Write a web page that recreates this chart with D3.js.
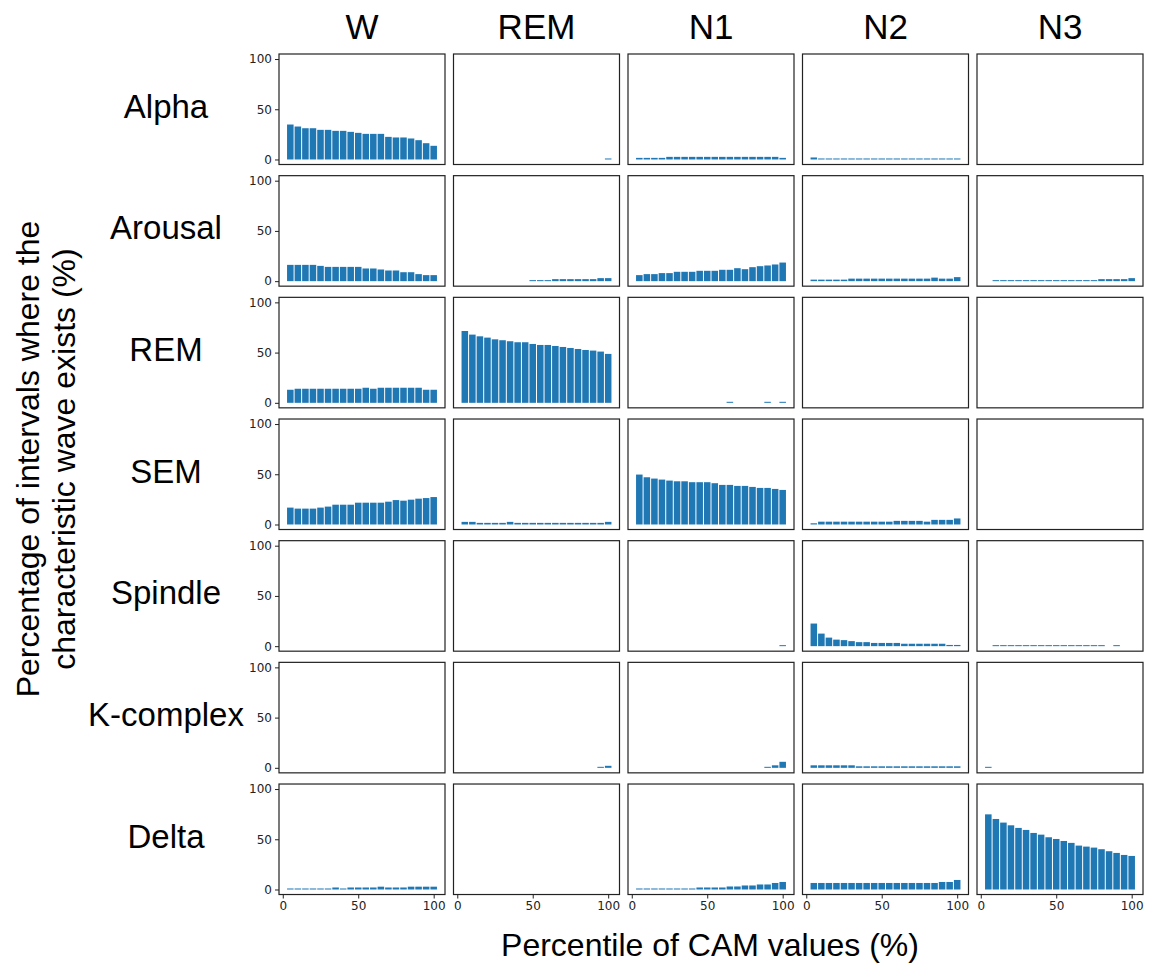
<!DOCTYPE html>
<html>
<head>
<meta charset="utf-8">
<script src="https://cdn.jsdelivr.net/npm/d3@7"></script>
<style>
  html, body { margin: 0; padding: 0; background: #fff; }
  svg { display: block; }
</style>
</head>
<body>
<svg id="chart" width="1158" height="969"></svg>
<script>
// ---------------- DATA ----------------
const stages = ["W", "REM", "N1", "N2", "N3"];
const waves = ["Alpha", "Arousal", "REM", "SEM", "Spindle", "K-complex", "Delta"];
const percentiles = [5, 10, 15, 20, 25, 30, 35, 40, 45, 50, 55, 60, 65, 70, 75, 80, 85, 90, 95, 100];
const xTicks = [0, 50, 100];
const yTicks = [0, 50, 100];

// Stage W
const W_Alpha    = [34.8, 32.8, 31.1, 31.1, 29.5, 29.5, 28.5, 28.5, 27.5, 26.5, 25.5, 25.5, 25.5, 22.5, 21.9, 21.9, 20.9, 19.2, 16.2, 13.6];
const W_Arousal  = [16.2, 16.2, 16.2, 16.2, 15.2, 14.2, 14.2, 14.2, 14.2, 14.2, 12.6, 12.6, 11.6, 10.6, 10.6, 8.9, 8.9, 7.0, 6.0, 6.0];
const W_REM      = [13, 14, 14, 14, 14, 14, 14, 14, 14, 14, 15, 14, 15, 15, 15, 15, 15, 15, 13, 13];
const W_SEM      = [16.8, 15.8, 15.8, 15.8, 16.8, 17.8, 19.7, 19.7, 19.7, 21.7, 21.7, 21.7, 21.7, 22.7, 24.3, 23.7, 24.7, 25.7, 26.3, 27.3];
const W_Spindle  = [0, 0, 0, 0, 0, 0, 0, 0, 0, 0, 0, 0, 0, 0, 0, 0, 0, 0, 0, 0];
const W_Kcomplex = [0, 0, 0, 0, 0, 0, 0, 0, 0, 0, 0, 0, 0, 0, 0, 0, 0, 0, 0, 0];
const W_Delta    = [1.0, 1.0, 1.0, 1.0, 1.0, 1.0, 2.0, 1.0, 2.0, 2.0, 2.0, 2.0, 2.8, 2.0, 2.0, 2.0, 2.8, 2.8, 2.8, 2.8];

// Stage REM
const REM_Alpha    = [0, 0, 0, 0, 0, 0, 0, 0, 0, 0, 0, 0, 0, 0, 0, 0, 0, 0, 0, 1.0];
const REM_Arousal  = [0, 0, 0, 0, 0, 0, 0, 0, 0, 1.0, 1.0, 1.0, 2.0, 2.0, 2.0, 2.0, 2.0, 2.0, 3.0, 3.0];
const REM_REM      = [71.5, 67.9, 66.2, 64.9, 63.2, 62.3, 61.3, 60.3, 60.3, 58.6, 57.6, 57.6, 56.6, 55.6, 54.6, 53.6, 52.6, 52.0, 51.0, 48.7];
const REM_SEM      = [2.6, 2.6, 1.6, 1.6, 1.6, 1.6, 2.6, 1.6, 1.6, 1.6, 1.6, 1.6, 1.6, 1.6, 1.6, 1.6, 1.6, 1.6, 1.6, 2.6];
const REM_Spindle  = [0, 0, 0, 0, 0, 0, 0, 0, 0, 0, 0, 0, 0, 0, 0, 0, 0, 0, 0, 0];
const REM_Kcomplex = [0, 0, 0, 0, 0, 0, 0, 0, 0, 0, 0, 0, 0, 0, 0, 0, 0, 0, 1.0, 2.0];
const REM_Delta    = [0, 0, 0, 0, 0, 0, 0, 0, 0, 0, 0, 0, 0, 0, 0, 0, 0, 0, 0, 0];

// Stage N1
const N1_Alpha    = [1.6, 1.6, 1.6, 1.6, 2.6, 2.6, 2.6, 2.6, 2.6, 2.6, 2.6, 2.6, 2.6, 2.6, 2.6, 2.6, 2.6, 2.6, 2.6, 1.6];
const N1_Arousal  = [6.0, 7.0, 7.0, 8.0, 8.0, 9.3, 9.3, 9.3, 10.3, 10.3, 10.3, 11.3, 11.3, 12.9, 11.9, 13.9, 14.9, 15.6, 16.6, 18.5];
const N1_REM      = [0, 0, 0, 0, 0, 0, 0, 0, 0, 0, 0, 0, 1.0, 0, 0, 0, 0, 1.0, 0, 1.0];
const N1_SEM      = [49.7, 47.0, 45.7, 44.7, 43.7, 43.0, 43.0, 42.1, 42.1, 42.1, 41.1, 39.4, 39.4, 38.4, 38.4, 37.4, 36.4, 36.4, 35.4, 34.4];
const N1_Spindle  = [0, 0, 0, 0, 0, 0, 0, 0, 0, 0, 0, 0, 0, 0, 0, 0, 0, 0, 0, 1.0];
const N1_Kcomplex = [0, 0, 0, 0, 0, 0, 0, 0, 0, 0, 0, 0, 0, 0, 0, 0, 0, 1.0, 2.5, 6.0];
const N1_Delta    = [1.0, 1.0, 1.0, 1.0, 1.0, 1.0, 1.0, 1.0, 2.0, 2.0, 2.0, 2.0, 3.0, 3.0, 4.0, 4.0, 5.0, 5.0, 6.5, 7.5];

// Stage N2
const N2_Alpha    = [2.0, 1.0, 1.0, 1.0, 1.0, 1.0, 1.0, 1.0, 1.0, 1.0, 1.0, 1.0, 1.0, 1.0, 1.0, 1.0, 1.0, 1.0, 1.0, 1.0];
const N2_Arousal  = [1.5, 1.5, 1.5, 1.5, 1.5, 2.5, 2.5, 2.5, 2.5, 2.5, 2.5, 2.5, 2.5, 2.5, 2.5, 2.5, 3.5, 2.5, 2.5, 4.0];
const N2_REM      = [0, 0, 0, 0, 0, 0, 0, 0, 0, 0, 0, 0, 0, 0, 0, 0, 0, 0, 0, 0];
const N2_SEM      = [1.2, 2.8, 2.8, 2.8, 2.8, 2.8, 2.8, 2.8, 2.8, 2.8, 2.8, 3.6, 3.6, 3.6, 3.6, 2.8, 4.6, 4.6, 4.6, 6.0];
const N2_Spindle  = [22.5, 12.5, 8.5, 6.5, 6.0, 5.0, 4.0, 4.0, 3.2, 3.2, 3.2, 3.2, 2.4, 2.4, 2.4, 2.4, 2.4, 2.4, 1.2, 1.2];
const N2_Kcomplex = [2.5, 2.5, 2.5, 2.5, 2.5, 2.5, 1.5, 1.5, 1.5, 1.5, 1.5, 1.5, 1.5, 1.5, 1.5, 1.5, 1.5, 1.5, 1.5, 1.5];
const N2_Delta    = [6.5, 6.5, 6.5, 6.5, 6.5, 6.5, 6.5, 6.5, 6.5, 6.5, 6.5, 6.5, 6.5, 6.5, 6.5, 6.5, 6.5, 7.5, 7.5, 9.5];

// Stage N3
const N3_Alpha    = [0, 0, 0, 0, 0, 0, 0, 0, 0, 0, 0, 0, 0, 0, 0, 0, 0, 0, 0, 0];
const N3_Arousal  = [0, 1.0, 1.0, 1.0, 1.0, 1.0, 1.0, 1.0, 1.0, 1.0, 1.0, 1.0, 1.0, 1.0, 1.0, 2.0, 2.0, 2.0, 2.0, 3.0];
const N3_REM      = [0, 0, 0, 0, 0, 0, 0, 0, 0, 0, 0, 0, 0, 0, 0, 0, 0, 0, 0, 0];
const N3_SEM      = [0, 0, 0, 0, 0, 0, 0, 0, 0, 0, 0, 0, 0, 0, 0, 0, 0, 0, 0, 0];
const N3_Spindle  = [0, 1.0, 1.0, 1.0, 1.0, 1.0, 1.0, 1.0, 1.0, 1.0, 1.0, 1.0, 1.0, 1.0, 1.0, 1.0, 0, 1.0, 0, 0];
const N3_Kcomplex = [1.0, 0, 0, 0, 0, 0, 0, 0, 0, 0, 0, 0, 0, 0, 0, 0, 0, 0, 0, 0];
const N3_Delta    = [74.8, 70.2, 66.6, 63.9, 61.3, 59.3, 56.3, 54.6, 52.0, 50.3, 48.3, 46.4, 43.7, 42.7, 41.7, 40.1, 38.1, 36.4, 34.4, 33.4];

// table: rows = waves, cols = stages
const table = [
  [W_Alpha,    REM_Alpha,    N1_Alpha,    N2_Alpha,    N3_Alpha],
  [W_Arousal,  REM_Arousal,  N1_Arousal,  N2_Arousal,  N3_Arousal],
  [W_REM,      REM_REM,      N1_REM,      N2_REM,      N3_REM],
  [W_SEM,      REM_SEM,      N1_SEM,      N2_SEM,      N3_SEM],
  [W_Spindle,  REM_Spindle,  N1_Spindle,  N2_Spindle,  N3_Spindle],
  [W_Kcomplex, REM_Kcomplex, N1_Kcomplex, N2_Kcomplex, N3_Kcomplex],
  [W_Delta,    REM_Delta,    N1_Delta,    N2_Delta,    N3_Delta]
];

// ---------------- LAYOUT ----------------
const svg = d3.select("#chart");
const gridLeft = 279, gridTop = 54;
const panelW = 166, panelH = 110.5;
const colStep = 174.5, rowStep = 121.67;
const barColor = "#1f77b4";
const bigFont = "'Liberation Sans', Arial, Helvetica, sans-serif";
const tickFont = "'DejaVu Sans', sans-serif";

const x = d3.scaleLinear().domain([-2.5, 107.5]).range([0, panelW]);
const y = d3.scaleLinear().domain([-5, 105]).range([panelH, 0]);
const halfW = 2.5;
const gap = 0.5; // white separation between adjacent bars (px each side)

// Column titles
stages.forEach((s, c) => {
  svg.append("text")
    .attr("x", gridLeft + c * colStep + panelW / 2)
    .attr("y", 39)
    .attr("text-anchor", "middle")
    .attr("font-family", bigFont)
    .attr("font-size", 35)
    .attr("fill", "#000")
    .text(s);
});

// Row labels
waves.forEach((w, r) => {
  svg.append("text")
    .attr("x", 166)
    .attr("y", gridTop + r * rowStep + panelH / 2 - 3)
    .attr("dy", "0.35em")
    .attr("text-anchor", "middle")
    .attr("font-family", bigFont)
    .attr("font-size", 33)
    .attr("fill", "#000")
    .text(w);
});

// Panels
waves.forEach((w, r) => {
  stages.forEach((s, c) => {
    const g = svg.append("g")
      .attr("transform", `translate(${gridLeft + c * colStep},${gridTop + r * rowStep})`);
    const vals = table[r][c];
    const data = percentiles.map((p, i) => ({ p, v: vals[i] })).filter(d => d.v > 0);

    g.selectAll("rect.bar")
      .data(data)
      .join("rect")
      .attr("class", "bar")
      .attr("x", d => x(d.p - halfW) + gap)
      .attr("width", d => x(d.p + halfW) - x(d.p - halfW) - 2 * gap)
      .attr("y", d => y(d.v))
      .attr("height", d => y(0) - y(d.v))
      .attr("fill", barColor);

    // frame
    g.append("rect")
      .attr("x", 0).attr("y", 0)
      .attr("width", panelW).attr("height", panelH)
      .attr("fill", "none")
      .attr("stroke", "#222")
      .attr("stroke-width", 1.2);

    if (c === 0) {
      const ay = g.append("g").call(d3.axisLeft(y).tickValues(yTicks).tickSize(4).tickPadding(3));
      ay.select(".domain").remove();
      ay.selectAll("line").attr("stroke", "#222");
      ay.selectAll("text").attr("font-family", tickFont).attr("font-size", 12).attr("fill", "#222");
    }
    if (r === waves.length - 1) {
      const ax = g.append("g").attr("transform", `translate(0,${panelH})`)
        .call(d3.axisBottom(x).tickValues(xTicks).tickSize(4).tickPadding(3));
      ax.select(".domain").remove();
      ax.selectAll("line").attr("stroke", "#222");
      ax.selectAll("text").attr("font-family", tickFont).attr("font-size", 12).attr("fill", "#222");
    }
  });
});

// Axis titles
const yLab = svg.append("text")
  .attr("transform", "translate(47,459) rotate(-90)")
  .attr("text-anchor", "middle")
  .attr("font-family", bigFont)
  .attr("font-size", 32)
  .attr("fill", "#000");
yLab.append("tspan").attr("x", 0).attr("y", -8).text("Percentage of intervals where the");
yLab.append("tspan").attr("x", 0).attr("y", 28).text("characteristic wave exists (%)");

svg.append("text")
  .attr("x", 710)
  .attr("y", 956)
  .attr("text-anchor", "middle")
  .attr("font-family", bigFont)
  .attr("font-size", 32)
  .attr("fill", "#000")
  .text("Percentile of CAM values (%)");
</script>
</body>
</html>
